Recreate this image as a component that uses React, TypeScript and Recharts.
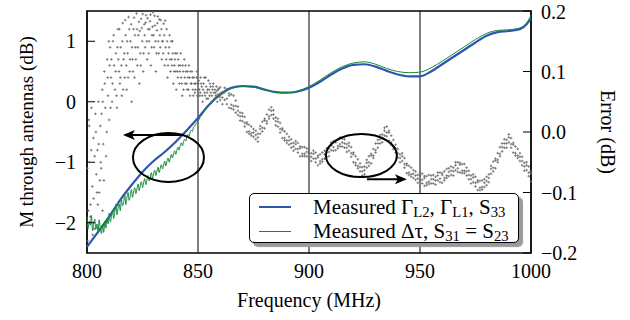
import React from 'react';
import {
  ComposedChart, Line, Scatter, XAxis, YAxis, CartesianGrid,
  ReferenceArea, ReferenceDot, ReferenceLine, Legend,
} from 'recharts';

const freqTicks = [800, 850, 900, 950, 1000];
const leftTicks = [-2, -1, 0, 1];
const rightTicks = [-0.2, -0.1, 0.0, 0.1, 0.2];

// Measured Gamma_L2, Gamma_L1, S33 (left axis, dB)
const blueFreq = [800, 805, 810, 815, 820, 825, 830, 835, 840, 845, 850, 855, 860, 865, 870, 875, 880, 885, 890, 895,
  900, 905, 910, 915, 920, 925, 930, 935, 940, 945, 950, 955, 960, 965, 970, 975, 980, 985, 990, 995, 998, 1000];
const blueVal = [-2.4, -2.15, -1.9, -1.62, -1.38, -1.16, -0.98, -0.83, -0.66, -0.47, -0.27, -0.05, 0.12, 0.23, 0.26, 0.25, 0.2, 0.16, 0.15, 0.17,
  0.23, 0.33, 0.45, 0.55, 0.61, 0.62, 0.58, 0.51, 0.45, 0.42, 0.42, 0.5, 0.62, 0.74, 0.86, 0.98, 1.09, 1.15, 1.17, 1.2, 1.28, 1.38];

// Measured delta tau, S31 = S23 (left axis, dB): noisy low end, then smooth
const greenNoisy: [number, number][] = [
  [800, -1.9], [800.5, -2.1], [801, -1.97], [801.5, -2.04], [802, -1.88], [802.5, -2.13], [803, -2.0], [803.5, -1.94],
  [804, -2.11], [804.5, -2.02], [805, -2.15], [805.5, -1.95], [806, -2.08], [806.5, -2.18], [807, -2.03], [807.5, -2.16],
  [808, -1.98], [808.5, -2.09], [809, -1.93], [809.5, -2.02], [810, -1.84], [810.5, -1.99], [811, -1.9], [811.5, -1.79],
  [812, -1.93], [812.5, -1.82], [813, -1.7], [813.5, -1.87], [814, -1.76], [814.5, -1.69], [815, -1.8], [815.5, -1.62],
  [816, -1.72], [816.5, -1.66], [817, -1.54], [817.5, -1.7], [818, -1.58], [818.5, -1.5], [819, -1.63], [819.5, -1.55],
  [820, -1.45], [820.5, -1.58], [821, -1.49], [821.5, -1.42], [822, -1.52], [822.5, -1.44], [823, -1.36], [823.5, -1.47],
  [824, -1.38], [824.5, -1.32], [825, -1.42], [825.5, -1.34], [826, -1.27], [826.5, -1.37], [827, -1.29], [827.5, -1.22],
  [828, -1.31], [828.5, -1.25], [829, -1.17], [829.5, -1.27], [830, -1.19], [830.5, -1.13], [831, -1.22], [831.5, -1.15],
  [832, -1.08], [832.5, -1.17], [833, -1.1], [833.5, -1.04], [834, -1.11], [834.5, -1.05], [835, -0.98], [835.5, -1.06],
  [836, -0.99], [836.5, -0.93], [837, -1.0], [837.5, -0.94], [838, -0.87], [838.5, -0.93], [839, -0.86], [839.5, -0.81],
  [840, -0.87], [840.5, -0.8], [841, -0.75], [841.5, -0.8], [842, -0.72], [842.5, -0.68], [843, -0.73], [843.5, -0.66],
  [844, -0.62], [844.5, -0.65], [845, -0.58], [845.5, -0.54], [846, -0.57], [846.5, -0.5], [847, -0.47], [847.5, -0.49],
  [848, -0.42], [848.5, -0.4], [849, -0.37], [849.5, -0.35], [850, -0.31], [850.5, -0.29], [851, -0.25], [851.5, -0.23],
  [852, -0.2], [852.5, -0.18], [853, -0.14], [853.5, -0.13], [854, -0.09], [854.5, -0.08],
];
const greenFreq = [855, 860, 865, 870, 875, 880, 885, 890, 895, 900, 905, 910, 915, 920, 925, 930, 935, 940, 945, 950,
  955, 960, 965, 970, 975, 980, 985, 990, 995, 998, 1000];
const greenVal = [-0.06, 0.1, 0.22, 0.25, 0.24, 0.2, 0.16, 0.15, 0.18, 0.25, 0.36, 0.48, 0.58, 0.64, 0.66, 0.62, 0.55, 0.5, 0.48, 0.49,
  0.56, 0.67, 0.79, 0.91, 1.03, 1.13, 1.18, 1.19, 1.22, 1.3, 1.43];

// Error scatter (right axis, dB): wide cloud below 860 MHz
const errCloud: [number, number][] = [
  [800.3, -0.18], [800.8, 0.02], [801.2, -0.05], [801.5, -0.14], [801.6, -0.12], [802, 0.04], [802.4, -0.09], [802.9, -0.01],
  [803, -0.11], [803.3, -0.16], [803.8, 0.03], [804.2, -0.07], [804.5, -0.1], [804.7, -0.03], [805.1, 0.05], [805.5, -0.1],
  [805.8, -0.08], [806, 0.01], [806.2, -0.05], [806.4, -0.06], [806.9, 0.07], [807, -0.13], [807.3, -0.02], [807.6, -0.08],
  [807.8, 0.1], [808.2, 0.04], [808.6, -0.04], [809.1, 0.12], [809.5, 0.06], [810, 0.02], [810.4, 0.14], [810.8, 0.09],
  [811.3, 0.05], [811.7, 0.15], [812.2, 0.11], [812.6, 0.07], [813, 0.13], [813.5, 0.04], [813.9, 0.17], [814.4, 0.1],
  [814.8, 0.08], [815.2, 0.14], [815.7, 0.06], [816.1, 0.18], [816.5, 0.12], [817, 0.09], [817.4, 0.16], [817.9, 0.07],
  [818.3, 0.13], [818.7, 0.19], [819.2, 0.1], [819.6, 0.15], [820.1, 0.05], [820.5, 0.12], [820.9, 0.17], [821.4, 0.09],
  [821.8, 0.14], [822.3, 0.196], [822.7, 0.11], [823.1, 0.16], [823.6, 0.08], [824, 0.13], [824.4, 0.187], [824.9, 0.15],
  [825.3, 0.1], [825.8, 0.178], [826.2, 0.14], [826.6, 0.193], [827.1, 0.12], [827.5, 0.17], [828, 0.15], [828.4, 0.183],
  [828.8, 0.11], [829.3, 0.16], [829.7, 0.198], [830.2, 0.14], [830.6, 0.176], [831, 0.1], [831.5, 0.168], [831.9, 0.191],
  [832.3, 0.13], [832.8, 0.16], [833.2, 0.185], [833.7, 0.12], [834.1, 0.15], [834.5, 0.179], [835, 0.11], [835.4, 0.14],
  [835.9, 0.17], [836.3, 0.09], [836.7, 0.13], [837.2, 0.16], [837.6, 0.1], [838.1, 0.12], [838.5, 0.15], [838.9, 0.08],
  [839.4, 0.11], [839.8, 0.13], [840.2, 0.07], [840.7, 0.1], [841.1, 0.12], [841.6, 0.08], [842, 0.11], [842.4, 0.09],
  [842.9, 0.06], [843.3, 0.1], [843.8, 0.12], [844.2, 0.08], [844.6, 0.1], [845.1, 0.07], [845.5, 0.09], [845.9, 0.11],
  [846.4, 0.06], [846.8, 0.08], [847.3, 0.1], [847.7, 0.07], [848.1, 0.09], [848.6, 0.065], [849, 0.08], [849.5, 0.1],
  [849.9, 0.07], [850.3, 0.085], [850.8, 0.06], [851.2, 0.09], [851.7, 0.075], [852.1, 0.05], [852.5, 0.08], [853, 0.065],
  [853.4, 0.09], [853.9, 0.055], [854.3, 0.07], [854.7, 0.085], [855.2, 0.06], [855.6, 0.075], [856.1, 0.05], [856.5, 0.07],
  [856.9, 0.08], [857.4, 0.055], [857.8, 0.065], [858.3, 0.075], [858.7, 0.05], [859.1, 0.07], [859.6, 0.06],
  [800.1, -0.06], [800.6, -0.13], [801, 0.01], [801.9, -0.03], [802.6, -0.17], [803.5, -0.04], [804, 0.0], [804.9, -0.12],
  [805.3, -0.02], [806.6, 0.03], [807.1, 0.05], [808, 0.08], [808.9, 0.0], [809.3, 0.09], [809.8, 0.15], [810.2, 0.11],
  [810.6, 0.04], [811, 0.12], [811.5, 0.08], [812, 0.16], [812.9, 0.1], [813.3, 0.06], [813.7, 0.14], [814.1, 0.12],
  [814.6, 0.17], [815, 0.09], [815.5, 0.11], [815.9, 0.15], [816.3, 0.07], [816.8, 0.13], [817.2, 0.185], [817.7, 0.11],
  [818.1, 0.15], [818.5, 0.09], [819, 0.17], [819.4, 0.12], [819.9, 0.178], [820.3, 0.14], [820.7, 0.1], [821.2, 0.189],
  [821.6, 0.16], [822, 0.12], [822.5, 0.17], [822.9, 0.14], [823.4, 0.182], [823.8, 0.167], [824.2, 0.11], [824.7, 0.172],
  [825.1, 0.195], [825.5, 0.13], [826, 0.16], [826.4, 0.181], [826.9, 0.15], [827.3, 0.188], [827.8, 0.13], [828.2, 0.17],
  [828.6, 0.194], [829.1, 0.14], [829.5, 0.174], [830, 0.16], [830.4, 0.192], [830.8, 0.15], [831.3, 0.13], [831.7, 0.18],
  [832.1, 0.15], [832.6, 0.186], [833, 0.14], [833.5, 0.17], [833.9, 0.15], [834.3, 0.13], [834.8, 0.16], [835.2, 0.184],
  [835.7, 0.12], [836.1, 0.15], [836.5, 0.11], [837, 0.14], [837.4, 0.12], [837.9, 0.15], [838.3, 0.11], [838.7, 0.13],
  [839.2, 0.1], [839.6, 0.12], [840, 0.1], [840.5, 0.13], [840.9, 0.09], [841.3, 0.11], [841.8, 0.1], [842.2, 0.13],
  [842.7, 0.08], [843.1, 0.11], [843.5, 0.07], [844, 0.09], [844.4, 0.11], [844.9, 0.08], [845.3, 0.1], [845.7, 0.07],
  [846.2, 0.09], [846.6, 0.1], [847.1, 0.08], [847.5, 0.09], [847.9, 0.06], [848.4, 0.08], [848.8, 0.07], [849.3, 0.09],
  [849.7, 0.06], [850.1, 0.08], [850.6, 0.07], [851, 0.065], [851.4, 0.08], [851.9, 0.06], [852.3, 0.07], [852.8, 0.09],
  [853.2, 0.06], [853.7, 0.075], [854.1, 0.065], [854.5, 0.055], [855, 0.07], [855.4, 0.08], [855.8, 0.065], [856.3, 0.06],
  [856.7, 0.075], [857.2, 0.065], [857.6, 0.07], [858, 0.06], [858.5, 0.068], [858.9, 0.062], [859.4, 0.072], [859.8, 0.058],
];

// Error band from 860 MHz: [freq, three samples]
const errBand: number[][] = [
  [860, .074, .053, .064], [861, .046, .066, .057], [862, .066, .053, .073], [863, .046, .071, .055],
  [864, .060, .040, .064], [865, .045, .062, .039], [866, .060, .043, .037], [867, .032, .043, .052],
  [868, .042, .028, .035], [869, .019, .032, .026], [870, .026, .018, .031], [871, .009, .025, .015],
  [872, .013, .000, .016], [873, .001, .012, -.003], [874, .009, -.002, -.006], [875, -.008, -.001, .005],
  [876, .002, -.012, -.005], [877, -.016, -.003, -.009], [878, .005, -.003, .010], [879, .001, .017, .007],
  [880, .019, .006, .022], [881, .018, .029, .014], [882, .037, .026, .022], [883, .028, .035, .041],
  [884, .036, .022, .029], [885, .011, .024, .018], [886, .017, .009, .022], [887, -.001, .015, .005],
  [888, .003, -.010, .006], [889, -.010, .001, -.014], [890, -.003, -.014, -.018], [891, -.021, -.014, -.008],
  [892, -.012, -.026, -.019], [893, -.031, -.018, -.024], [894, -.020, -.028, -.015], [895, -.034, -.018, -.028],
  [896, -.027, -.040, -.024], [897, -.036, -.025, -.040], [898, -.025, -.036, -.040], [899, -.040, -.033, -.027],
  [900, -.029, -.043, -.036], [901, -.048, -.035, -.041], [902, -.036, -.044, -.031], [903, -.050, -.034, -.044],
  [904, -.042, -.055, -.039], [905, -.048, -.037, -.052], [906, -.034, -.045, -.049], [907, -.044, -.037, -.031],
  [908, -.027, -.041, -.034], [909, -.040, -.027, -.033], [910, -.022, -.030, -.017], [911, -.031, -.015, -.025],
  [912, -.017, -.030, -.014], [913, -.023, -.012, -.027], [914, -.009, -.020, -.024], [915, -.024, -.017, -.011],
  [916, -.012, -.026, -.019], [917, -.033, -.020, -.026], [918, -.023, -.031, -.018], [919, -.041, -.025, -.035],
  [920, -.037, -.050, -.034], [921, -.051, -.040, -.055], [922, -.045, -.056, -.060], [923, -.065, -.058, -.052],
  [924, -.058, -.072, -.065], [925, -.070, -.057, -.063], [926, -.051, -.059, -.046], [927, -.056, -.040, -.050],
  [928, -.039, -.052, -.036], [929, -.039, -.028, -.043], [930, -.019, -.030, -.034], [931, -.026, -.019, -.013],
  [932, -.005, -.019, -.012], [933, -.017, -.004, -.010], [934, .002, -.006, .007], [935, -.007, .009, -.001],
  [936, -.001, -.014, .002], [937, -.017, -.006, -.021], [938, -.013, -.024, -.028], [939, -.034, -.027, -.021],
  [940, -.028, -.042, -.035], [941, -.050, -.037, -.043], [942, -.040, -.048, -.035], [943, -.059, -.043, -.053],
  [944, -.055, -.068, -.052], [945, -.067, -.056, -.071], [946, -.059, -.070, -.074], [947, -.076, -.069, -.063],
  [948, -.065, -.079, -.072], [949, -.084, -.071, -.077], [950, -.072, -.080, -.067], [951, -.085, -.069, -.079],
  [952, -.076, -.089, -.073], [953, -.084, -.073, -.088], [954, -.071, -.082, -.086], [955, -.085, -.078, -.072],
  [956, -.071, -.085, -.078], [957, -.087, -.074, -.080], [958, -.072, -.080, -.067], [959, -.083, -.067, -.077],
  [960, -.071, -.084, -.068], [961, -.076, -.065, -.080], [962, -.061, -.072, -.076], [963, -.073, -.066, -.060],
  [964, -.057, -.071, -.064], [965, -.072, -.059, -.065], [966, -.055, -.063, -.050], [967, -.066, -.050, -.060],
  [968, -.054, -.067, -.051], [969, -.064, -.053, -.068], [970, -.053, -.064, -.068], [971, -.072, -.065, -.059],
  [972, -.064, -.078, -.071], [973, -.085, -.072, -.078], [974, -.075, -.083, -.070], [975, -.090, -.074, -.084],
  [976, -.083, -.096, -.080], [977, -.092, -.081, -.096], [978, -.080, -.091, -.095], [979, -.091, -.084, -.078],
  [980, -.074, -.088, -.081], [981, -.083, -.070, -.076], [982, -.061, -.069, -.056], [983, -.065, -.049, -.059],
  [984, -.047, -.060, -.044], [985, -.046, -.035, -.050], [986, -.025, -.036, -.040], [987, -.032, -.025, -.019],
  [988, -.012, -.026, -.019], [989, -.026, -.013, -.019], [990, -.009, -.017, -.004], [991, -.026, -.010, -.020],
  [992, -.021, -.034, -.018], [993, -.035, -.024, -.039], [994, -.028, -.039, -.043], [995, -.048, -.041, -.035],
  [996, -.041, -.055, -.048], [997, -.064, -.051, -.057], [998, -.055, -.063, -.050], [999, -.073, -.057, -.067],
  [1000, -.069, -.082, -.066],
];

// annotations (data coordinates)
const leftEllipse = { f: 836.7, v: -0.92 };
const rightEllipse = { f: 923.6, v: -0.039 };
const leftArrow = [{ x: 843.7, y: -0.55 }, { x: 816.2, y: -0.55 }];
const rightArrow = [{ x: 926.1, y: -0.078 }, { x: 944.1, y: -0.078 }];

const blueData = blueFreq.map((f, i) => ({ f, v: blueVal[i] }));
const greenData = [
  ...greenNoisy.map(([f, v]) => ({ f, v })),
  ...greenFreq.map((f, i) => ({ f, v: greenVal[i] })),
];
const errData = [
  ...errCloud.map(([f, v]) => ({ f, v })),
  ...errBand.flatMap(([f, ...vs]) => vs.map((v) => ({ f, v }))),
];

const FONT = "'Liberation Serif', 'Times New Roman', Times, serif";
const BLUE = '#2f56ad';
const GREEN = '#108a3a';
const tickStyle = { fontFamily: FONT, fontSize: 20, fill: '#000' };
const labelStyle = { fontFamily: FONT, fontSize: 20, fill: '#000' };

const fmt = (v: number, digits: number) => {
  const s = Math.abs(v).toFixed(digits);
  return v < 0 ? `\u2212${s}` : s;
};

const Plus = (props: any) => {
  const { cx, cy } = props;
  return <path d={`M${cx - 1.3},${cy}h2.6M${cx},${cy - 1.3}v2.6`} stroke="#6a6a6a" strokeWidth={0.8} />;
};

const ellipse = (rx: number, ry: number) => (props: any) => (
  <ellipse cx={props.cx} cy={props.cy} rx={rx} ry={ry} fill="none" stroke="#000" strokeWidth={2} />
);

const Arrow = (props: any) => {
  const { x1, y1, x2, y2 } = props;
  const d = Math.sign(x2 - x1);
  return (
    <g>
      <line x1={x1} y1={y1} x2={x2 - d * 7} y2={y2} stroke="#000" strokeWidth={2} />
      <polygon
        points={`${x2},${y2} ${x2 - d * 12},${y2 - 5} ${x2 - d * 9},${y2} ${x2 - d * 12},${y2 + 5}`}
        fill="#000"
      />
    </g>
  );
};

const subStyle = { fontSize: '70%', verticalAlign: '-0.22em', lineHeight: 0 };

const legendRows = [
  {
    color: BLUE, width: 2,
    label: <>Measured Γ<sub style={subStyle}>L2</sub>, Γ<sub style={subStyle}>L1</sub>, S<sub style={subStyle}>33</sub></>,
  },
  {
    color: GREEN, width: 1,
    label: <>Measured Δτ, S<sub style={subStyle}>31</sub> = S<sub style={subStyle}>23</sub></>,
  },
];

const LegendBox = () => (
  <div
    style={{
      boxSizing: 'border-box', width: 270, height: 50, border: '1.5px solid #000', borderRadius: 5,
      background: '#fff', boxShadow: '4px 4px 1px #9a9a9a', fontFamily: FONT, fontSize: 21, padding: '1px 0 0 0',
    }}
  >
    {legendRows.map((r, i) => (
      <div key={i} style={{ display: 'flex', alignItems: 'center', height: 24, lineHeight: '21px' }}>
        <div style={{ width: 32, marginLeft: 9, marginRight: 22, borderTop: `${r.width}px solid ${r.color}` }} />
        <span style={{ whiteSpace: 'nowrap' }}>{r.label}</span>
      </div>
    ))}
  </div>
);

export default function App() {
  return (
    <div style={{ position: 'absolute', left: 0, top: 0, background: '#fff', fontFamily: FONT }}>
      <ComposedChart width={630} height={320} margin={{ top: 11, right: 39, bottom: 27, left: 27 }}>
        <CartesianGrid horizontal={false} stroke="#000" strokeWidth={1} />
        <XAxis
          dataKey="f" type="number" domain={[800, 1000]} ticks={freqTicks} height={40}
          axisLine={false} tickLine={false} tickSize={0} tickMargin={11} tick={tickStyle}
          label={{ value: 'Frequency (MHz)', position: 'center', dy: 27, ...labelStyle }}
        />
        <YAxis
          yAxisId="left" dataKey="v" type="number" domain={[-2.5, 1.5]} ticks={leftTicks} width={60}
          axisLine={false} tickSize={-8} tickMargin={19} tickLine={{ stroke: '#000' }} tick={tickStyle}
          tickFormatter={(v: number) => fmt(v, 0)}
          label={{ value: 'M through antennas (dB)', angle: -90, position: 'center', dx: -31, ...labelStyle, fontSize: 19 }}
        />
        <YAxis
          yAxisId="right" orientation="right" dataKey="v" type="number" domain={[-0.2, 0.2]} ticks={rightTicks} width={60}
          axisLine={false} tickSize={-8} tickMargin={18} tickLine={{ stroke: '#000' }} tick={tickStyle}
          tickFormatter={(v: number) => fmt(v, 1)}
          label={{ value: 'Error (dB)', angle: 90, position: 'center', dx: 47, ...labelStyle }}
        />
        <Scatter yAxisId="right" data={errData} dataKey="v" shape={Plus} isAnimationActive={false} />
        <Line yAxisId="left" data={blueData} dataKey="v" type="monotone" stroke={BLUE} strokeWidth={2.2} dot={false} isAnimationActive={false} />
        <Line yAxisId="left" data={greenData} dataKey="v" type="monotone" stroke={GREEN} strokeWidth={1} dot={false} isAnimationActive={false} />
        <ReferenceArea yAxisId="left" x1={800} x2={1000} y1={-2.5} y2={1.5} fill="none" fillOpacity={0} stroke="#000" strokeWidth={1.6} />
        <ReferenceDot yAxisId="left" x={leftEllipse.f} y={leftEllipse.v} shape={ellipse(35.5, 24.5)} />
        <ReferenceDot yAxisId="right" x={rightEllipse.f} y={rightEllipse.v} shape={ellipse(35.5, 21.5)} />
        <ReferenceLine yAxisId="left" segment={leftArrow} shape={Arrow} />
        <ReferenceLine yAxisId="right" segment={rightArrow} shape={Arrow} />
        <Legend
          layout="vertical" align="center" verticalAlign="middle" content={LegendBox}
          wrapperStyle={{ left: 249, top: 193, width: 270, height: 50 }}
        />
      </ComposedChart>
    </div>
  );
}
